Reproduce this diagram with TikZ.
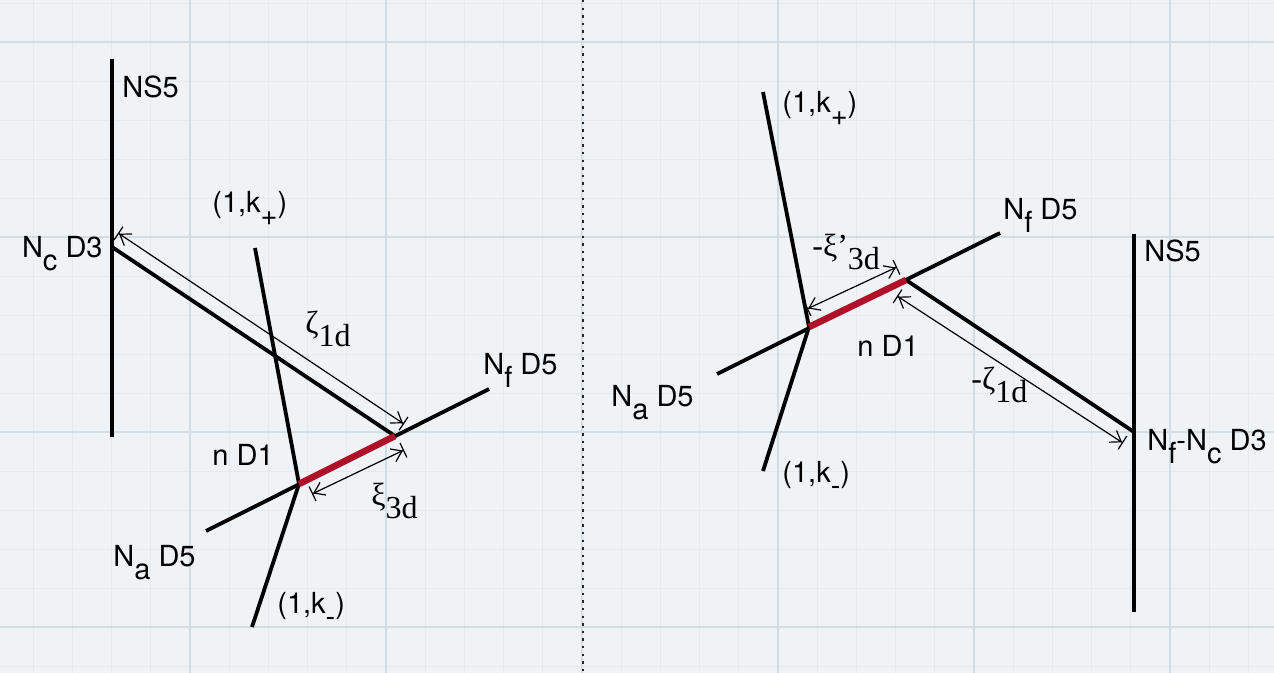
\documentclass[tikz,border=0pt]{standalone}
\usepackage{fontspec}
\setmainfont{TeX Gyre Heros}
\newfontfamily\greekfont{Liberation Serif}
\usetikzlibrary{arrows.meta,calc}

\definecolor{paper}{RGB}{239,243,246}
\definecolor{gridmajor}{RGB}{210,221,230}
\definecolor{gridminor}{RGB}{228,235,240}
\definecolor{dired}{RGB}{176,16,40}

% lowered index, as in the slide
\newcommand\dn[1]{\raisebox{-6.5pt}{#1}}

\tikzset{
  brane/.style={line width=1.9pt},
  donebrane/.style={line width=3.3pt, dired},
  dimline/.style={line width=0.6pt,
    {Bar[width=8pt]Straight Barb[length=5pt,width=7pt]}-{Straight Barb[length=5pt,width=7pt]Bar[width=8pt]}},
  lbl/.style={anchor=base west, inner sep=0pt, font=\fontsize{14.5}{16}\selectfont},
  glbl/.style={anchor=base west, inner sep=0pt, font=\greekfont\fontsize{16}{18}\selectfont},
}

\begin{document}
\begin{tikzpicture}[x=0.5pt,y=-0.5pt]
\useasboundingbox (0,0) rectangle (1274,673);
\fill[paper] (0,0) rectangle (1274,673);
% graph paper
\foreach \i in {1,...,32}
  \draw[gridminor, line width=0.4pt] ({-6+39.2*\i},0) -- ({-6+39.2*\i},673);
\foreach \i in {0,...,17}
  \draw[gridminor, line width=0.4pt] (0,{3+39*\i}) -- (1274,{3+39*\i});
\foreach \x in {190,386,582,778,974,1170}
  \draw[gridmajor, line width=0.8pt] (\x,0) -- (\x,673);
\foreach \y in {42,237,432,627}
  \draw[gridmajor, line width=0.8pt] (0,\y) -- (1274,\y);
\draw[black!85, line width=1pt, dash pattern=on 1.2pt off 2.6pt] (583,0) -- (583,673);

% left configuration
\coordinate (ns5Ltop) at (112,59);
\coordinate (ns5Lbot) at (112,437);
\coordinate (ncL) at (112,247);
\coordinate (jaL) at (299,484);
\coordinate (jbL) at (395,436);
\coordinate (naL) at (206,531);
\coordinate (nfL) at (489,389);
\coordinate (kpL) at (255,248);
\coordinate (kmL) at (252,627);
\draw[brane] (ns5Ltop) -- (ns5Lbot);
\draw[brane] (ncL) -- (jbL);
\draw[brane] (naL) -- (nfL);
\draw[brane] (kpL) -- (jaL) -- (kmL);
\draw[donebrane] (jaL) -- (jbL);
\draw[dimline] ($(ncL)+(6,-14)$) -- ($(jbL)+(9,-12)$);
\draw[dimline] ($(jaL)+(13,10)$) -- ($(jbL)+(9,14)$);
\node[lbl] (ns5Ltxt) at (122,98) {NS5};
\node[lbl, anchor=base east] (ncLtxt) at (103,258) {N\dn{c} D3};
\node[lbl] (kpLtxt) at (212,213) {(1,k\dn{+})};
\node[lbl] (kmLtxt) at (277,613) {(1,k\dn{-})};
\node[lbl] (nfLtxt) at (483,375) {N\dn{f} D5};
\node[lbl] (naLtxt) at (113,566) {N\dn{a} D5};
\node[lbl] (d1Ltxt) at (212,466) {n D1};
\node[glbl] (zetaL) at (305,334) {ζ\dn{1d}};
\node[glbl] (xiL) at (371,505) {ξ\dn{3d}};

% right configuration
\coordinate (ns5Rtop) at (1134,234);
\coordinate (ns5Rbot) at (1134,612);
\coordinate (ncR) at (1134,432);
\coordinate (jaR) at (809,327);
\coordinate (jbR) at (906,280);
\coordinate (naR) at (717,374);
\coordinate (nfR) at (1000,233);
\coordinate (kpR) at (763,92);
\coordinate (kmR) at (763,471);
\draw[brane] (ns5Rtop) -- (ns5Rbot);
\draw[brane] (jbR) -- (ncR);
\draw[brane] (naR) -- (nfR);
\draw[brane] (kpR) -- (jaR) -- (kmR);
\draw[donebrane] (jaR) -- (jbR);
\draw[dimline] ($(jaR)+(-2,-18)$) -- ($(jbR)+(-9,-13)$);
\draw[dimline] ($(jbR)+(-9,16)$) -- ($(ncR)+(-11,11)$);
\node[lbl] (ns5Rtxt) at (1144,262) {NS5};
\node[lbl] (ncRtxt) at (1147,451) {N\dn{f}-N\dn{c} D3};
\node[lbl] (kpRtxt) at (782,113) {(1,k\dn{+})};
\node[lbl] (kmRtxt) at (782,482) {(1,k\dn{-})};
\node[lbl] (nfRtxt) at (1003,220) {N\dn{f} D5};
\node[lbl] (naRtxt) at (611,407) {N\dn{a} D5};
\node[lbl] (d1Rtxt) at (857,357) {n D1};
\node[glbl] (xiR) at (812,257) {-ξ’\dn{3d}};
\node[glbl] (zetaR) at (971,390) {-ζ\dn{1d}};
\end{tikzpicture}
\end{document}
